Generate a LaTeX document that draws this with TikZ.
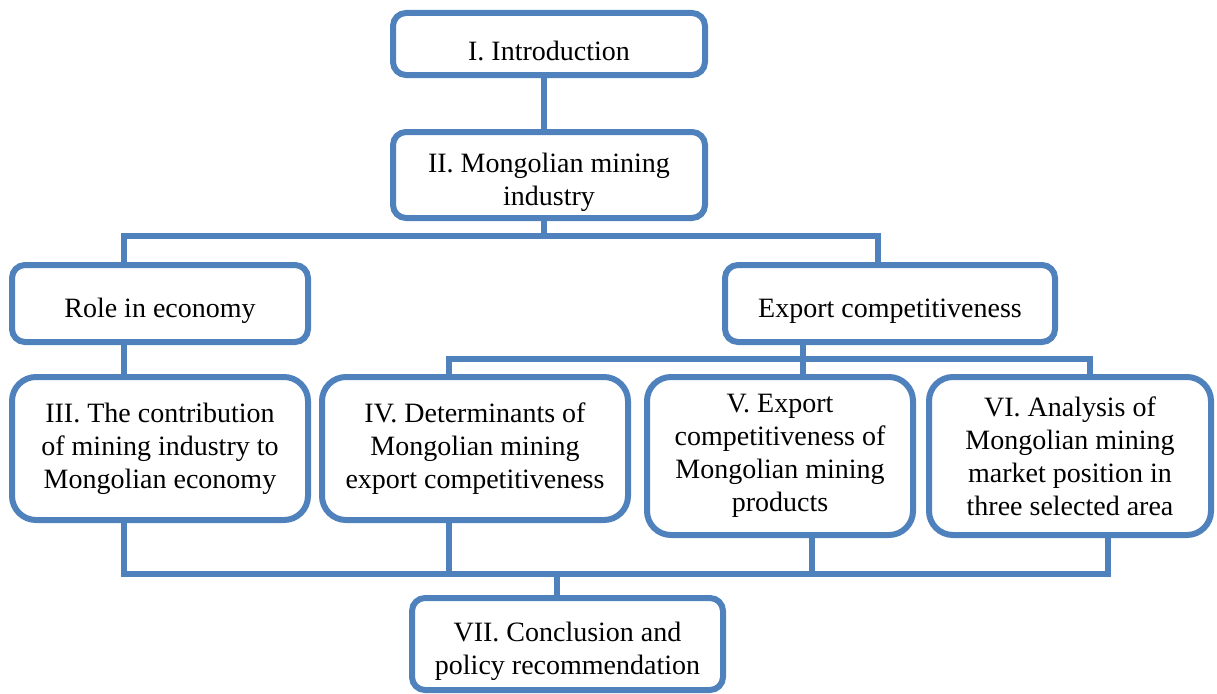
\documentclass[tikz,border=0pt]{standalone}
\usepackage{fontspec}
\setmainfont{Liberation Serif}
\usepackage{tikz}

\definecolor{boxblue}{HTML}{4F81BD}
\newcommand{\padtop}{\rule{0pt}{34pt}}

\begin{document}
\begin{tikzpicture}
[x=1pt, y=-1pt, line width=6pt, draw=boxblue,
 every node/.style={rectangle, draw=boxblue, line width=6pt, fill=white, inner sep=0pt, outer sep=0pt,
   align=center, font=\rmfamily\fontsize{28}{33}\selectfont},
 small/.style={rounded corners=13pt},
 big/.style={rounded corners=24pt},
 link/.style={draw=boxblue, line width=6pt, line cap=rect}]
\useasboundingbox (0,0) rectangle (1217,693);

\node[small, minimum width=312, minimum height=62] (intro) at (549,44) {\padtop I. Introduction};
\node[small, minimum width=312, minimum height=86] (ii) at (549,175) {\padtop II. Mongolian mining\\industry};
\node[small, minimum width=296, minimum height=77] (role) at (160,303.5) {\padtop Role in economy};
\node[small, minimum width=330, minimum height=77] (expo) at (890,303.5) {\padtop Export competitiveness};

\node[big, minimum width=296, minimum height=143] (iii) at (160,448.5) {III. The contribution\\of mining industry to\\Mongolian economy};
\node[big, minimum width=306, minimum height=143] (iv) at (475,448.5) {IV. Determinants of\\Mongolian mining\\export competitiveness};
\node[big, minimum width=266, minimum height=158] (v) at (780,456) {V. Export\\competitiveness of\\Mongolian mining\\products};
\node[big, minimum width=282, minimum height=158] (vi) at (1070,456) {VI. Analysis of\\Mongolian mining\\market position in\\three selected area};

\node[small, minimum width=311, minimum height=92] (vii) at (567.5,644) {\padtop VII. Conclusion and\\policy recommendation};

% bus joints
\coordinate (j0) at (544,0);
\coordinate (b1l) at (124,236);
\coordinate (b1r) at (878,236);
\coordinate (b2l) at (449,359);
\coordinate (b2m) at (803,359);
\coordinate (b2r) at (1090,359);
\coordinate (b3l) at (124,574);
\coordinate (d3) at (449,574);
\coordinate (d4) at (812,574);
\coordinate (d5) at (1108,574);
\coordinate (j7) at (557,574);

\foreach \from/\to in {intro.south -| j0/ii.north -| j0, ii.south -| j0/b1l -| j0, b1l/b1r,
    b1l/role.north -| b1l, b1r/expo.north -| b1r,
    role.south -| b1l/iii.north -| b1l,
    expo.south -| b2m/v.north -| b2m, b2l/b2r,
    b2l/iv.north -| b2l, b2r/vi.north -| b2r,
    iii.south -| b3l/b3l, iv.south -| d3/d3, v.south -| d4/d4, vi.south -| d5/d5,
    b3l/d5, j7/vii.north -| j7}
  \draw[link] (\from) -- (\to);

\end{tikzpicture}
\end{document}
